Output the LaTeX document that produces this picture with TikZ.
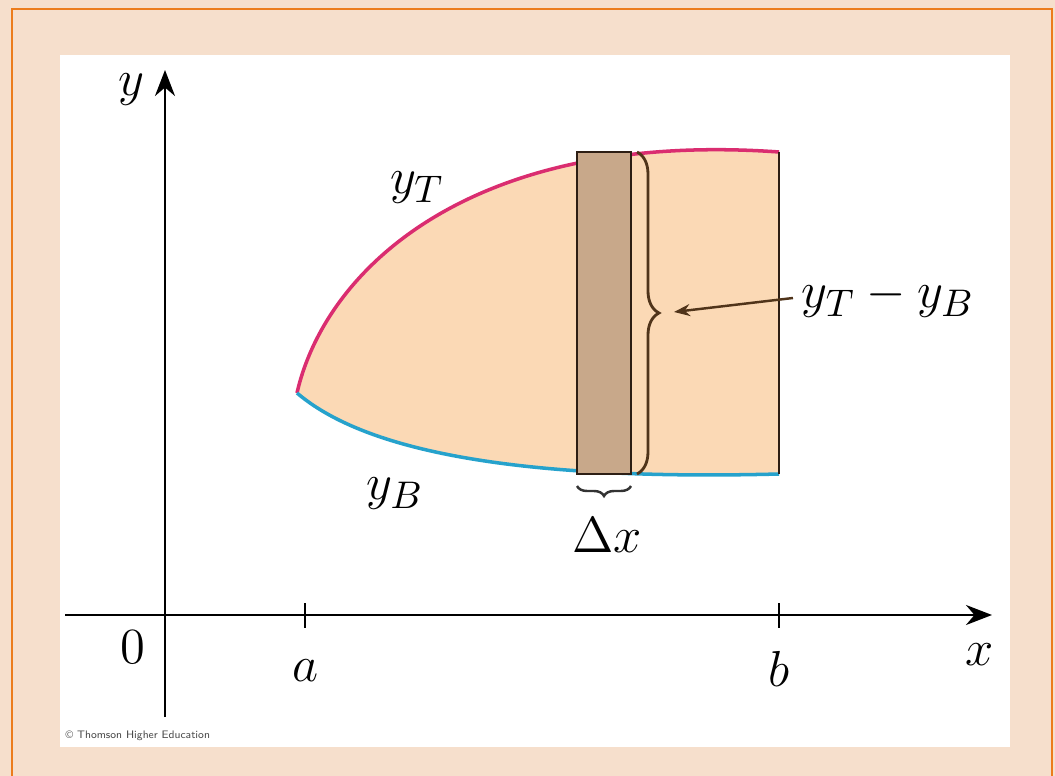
\documentclass[tikz,border=0pt]{standalone}
\usepackage{amsmath}
\usepackage{xcolor}
\usetikzlibrary{arrows.meta,decorations.pathreplacing}
\definecolor{pagebg}{RGB}{246,223,204}
\definecolor{frameorange}{RGB}{236,124,28}
\definecolor{regionfill}{RGB}{251,217,181}
\definecolor{stripfill}{RGB}{200,168,138}
\definecolor{stripedge}{RGB}{45,30,20}
\definecolor{topcurve}{RGB}{218,45,112}
\definecolor{botcurve}{RGB}{38,162,204}
\definecolor{bracebrown}{RGB}{80,52,26}

\begin{document}
\begin{tikzpicture}[x=0.1mm, y=-0.1mm, >={Stealth[length=2.6mm,width=2mm]},
  lbl/.style={font=\fontsize{15}{18}\selectfont, inner sep=0pt}]
  \useasboundingbox (0,0) rectangle (1055,776);
  % Page and white panel
  \fill[pagebg] (0,0) rectangle (1055,776);
  \draw[frameorange, line width=0.8pt] (12,9) rectangle (1052,800);
  \fill[white] (60,55) rectangle (1010,747);
  % Region between y_T and y_B
  \fill[regionfill] (297,393) .. controls (325,270) and (470,130) .. (779,152)
    -- (779,474) .. controls (470,482) and (350,438) .. cycle;
  \draw[topcurve, line width=1pt] (297,393) .. controls (325,270) and (470,130) .. (779,152);
  \draw[botcurve, line width=1pt] (297,393) .. controls (350,438) and (470,482) .. (779,474);
  \draw[stripedge, line width=0.8pt] (779,152) -- (779,474);
  % Thin strip
  \draw[stripedge, line width=0.8pt, fill=stripfill] (577,152) rectangle (631,474);
  % Axes
  \draw[->, line width=0.7pt] (65,615) -- (992,615);
  \draw[->, line width=0.7pt] (165,717) -- (165,70);
  \draw[line width=0.7pt] (305,603) -- (305,628);
  \draw[line width=0.7pt] (779,603) -- (779,628);
  % Labels
  \node[lbl] (ylab) at (131,90) {$y$};
  \node[lbl] (xlab) at (980,655) {$x$};
  \node[lbl] (zero) at (133,647) {$0$};
  \node[lbl] (alab) at (306,671) {$a$};
  \node[lbl] (blab) at (779,669) {$b$};
  \node[lbl] (ytop) at (417,188) {$y_T$};
  \node[lbl] (ybot) at (395,494) {$y_B$};
  \node[lbl] (dx) at (607,535) {$\Delta x$};
  \node[lbl] (diff) at (888,298) {$y_T - y_B$};
  % Braces
  \draw[bracebrown, line width=0.8pt, decorate, decoration={brace, amplitude=0.22cm}]
    (637,152) -- (637,474);
  \coordinate (bracetip) at (674,312);
  \draw[->, bracebrown, line width=0.7pt, >={Stealth[length=1.6mm,width=1.2mm]}]
    ([xshift=-0.8mm]diff.west) -- (bracetip);
  \draw[black!80, line width=0.7pt, decorate, decoration={brace, amplitude=0.1cm}]
    (631,486) -- (577,486);
  \node[font=\fontsize{3.1}{4}\selectfont\sffamily, anchor=west, inner sep=0pt, text=black!70]
    (credit) at (65,736) {\textcopyright\ Thomson Higher Education};
\end{tikzpicture}
\end{document}
